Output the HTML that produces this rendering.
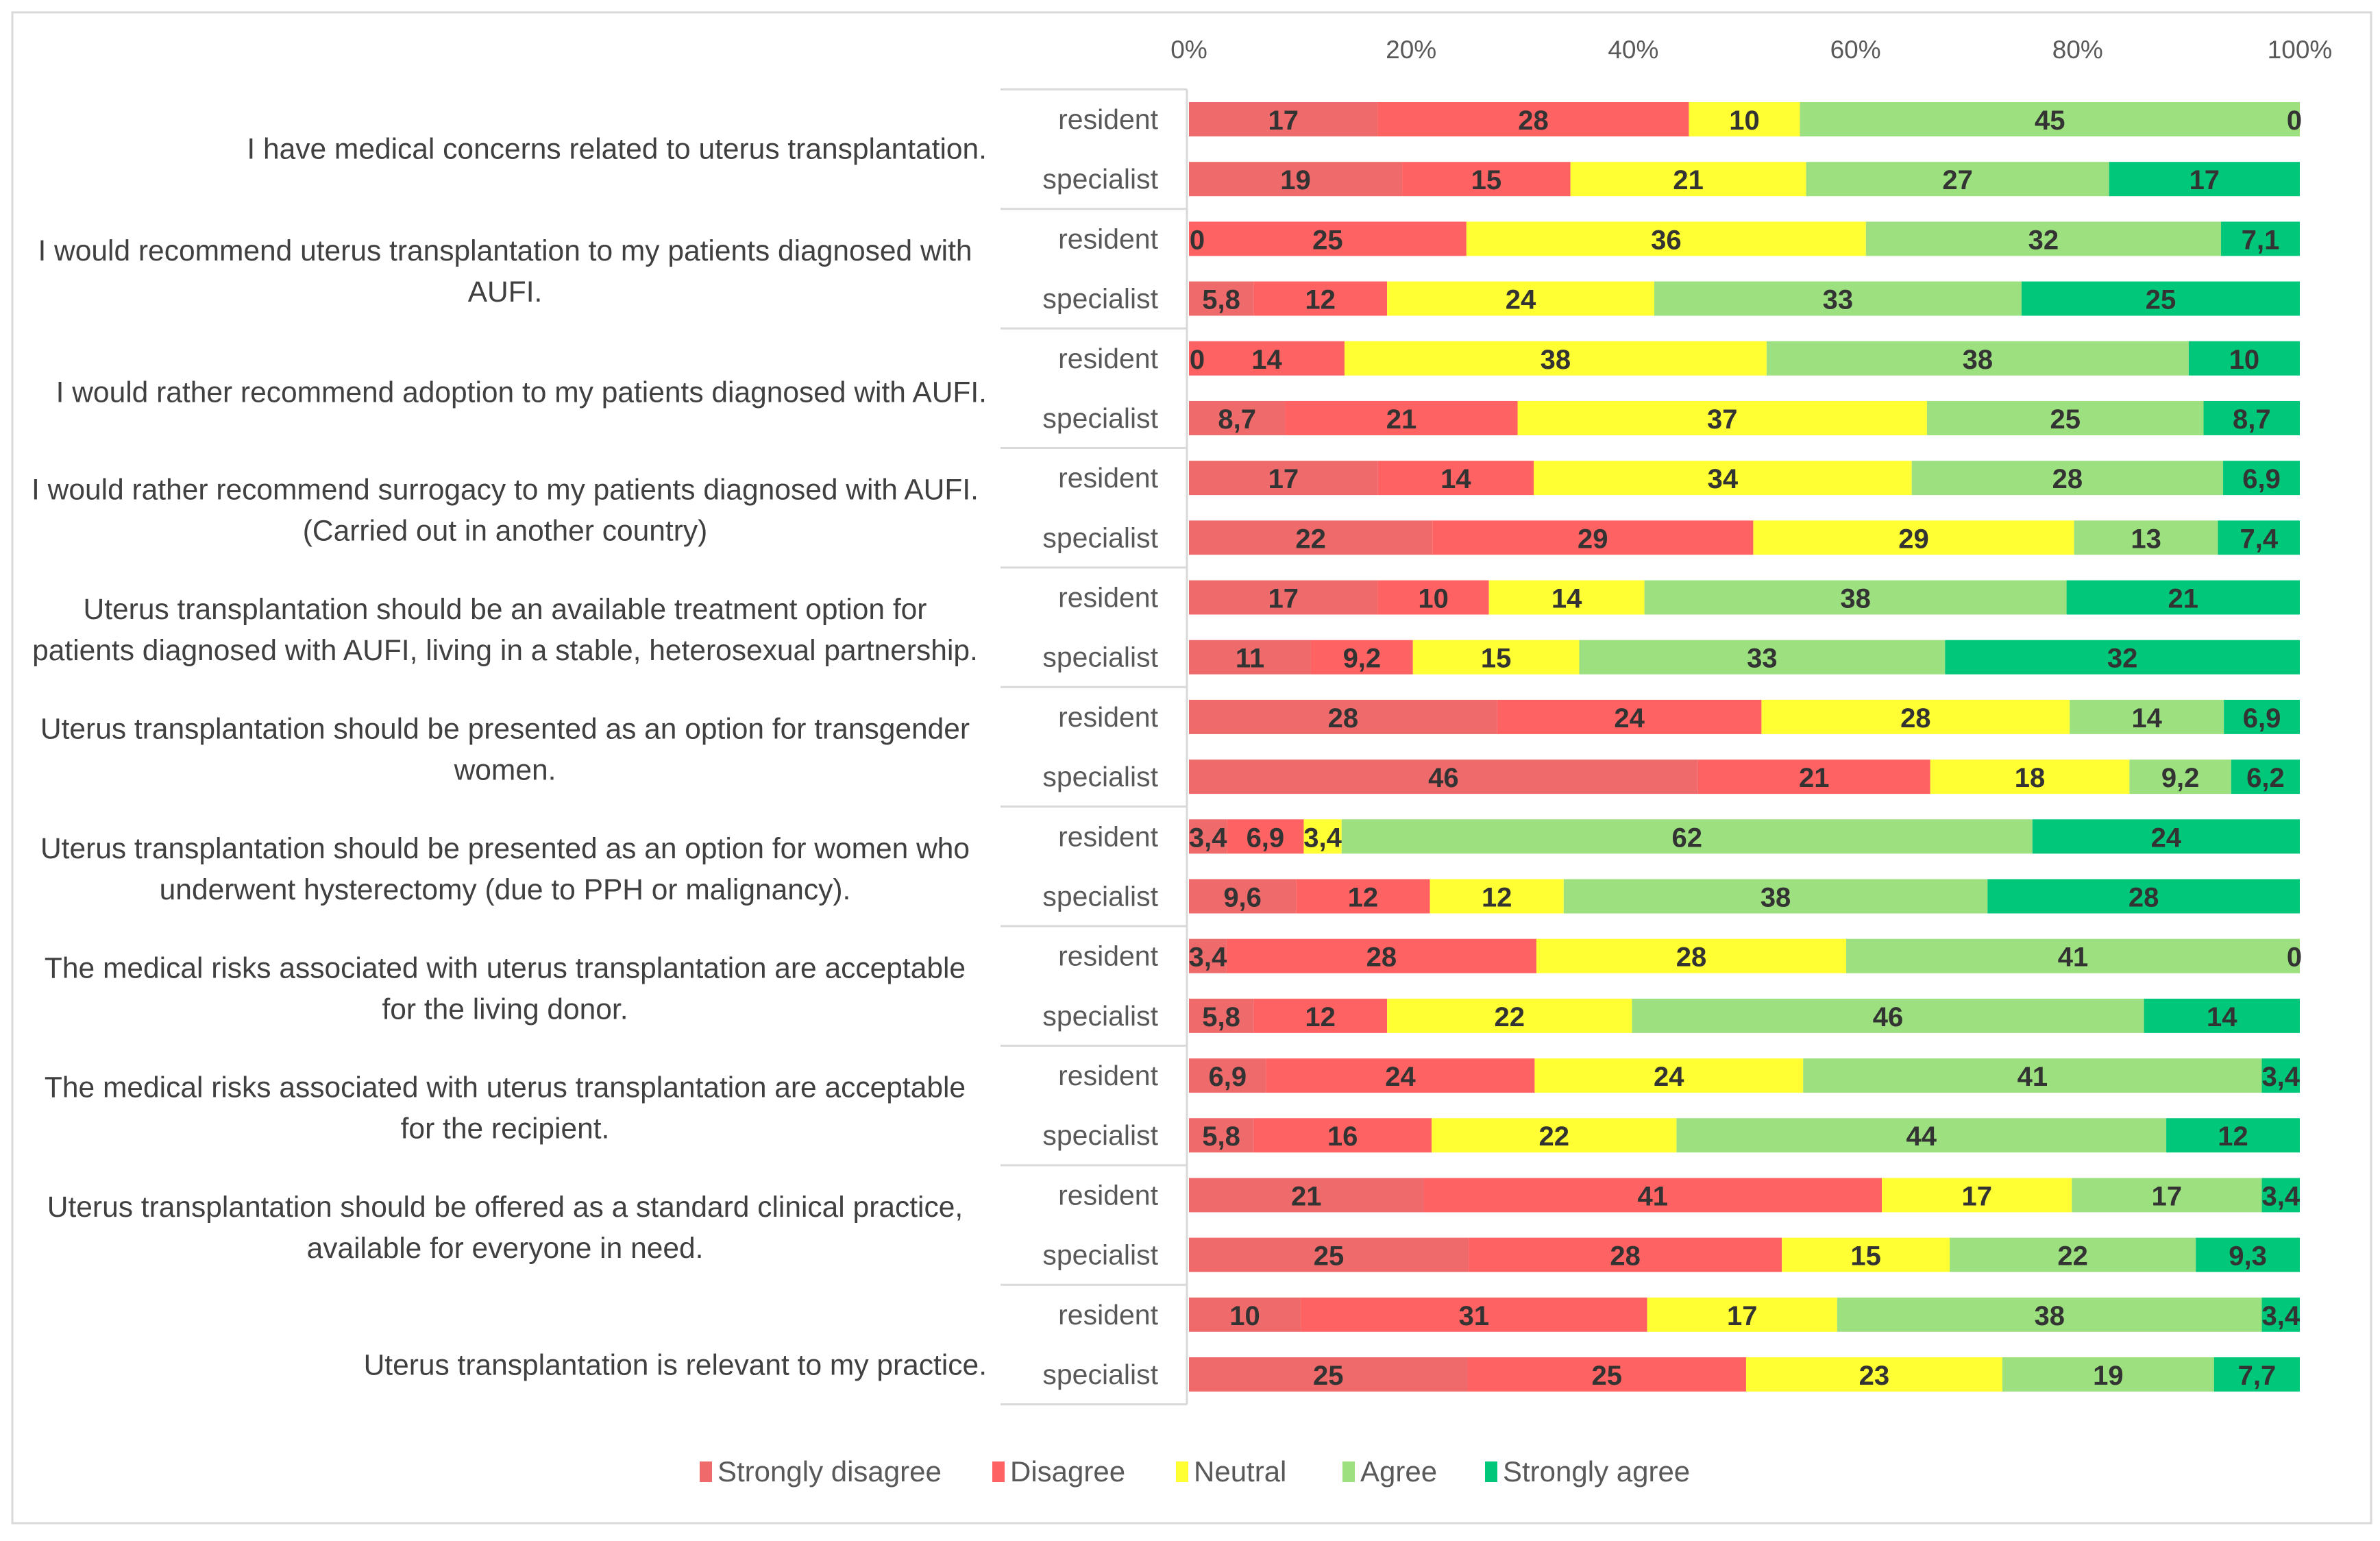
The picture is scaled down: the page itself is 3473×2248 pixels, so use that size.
<!DOCTYPE html>
<html><head><meta charset="utf-8"><style>
html,body{margin:0;padding:0;background:#fff;}
svg{display:block;font-family:"Liberation Sans",sans-serif;}
</style></head><body>
<svg id="chart" width="3473" height="2248" viewBox="0 0 3473 2248" xmlns="http://www.w3.org/2000/svg">
<rect x="18" y="18" width="3442" height="2204" fill="#fff" stroke="#d9d9d9" stroke-width="3"/>
<g id="grid"></g><g id="bars"></g><g id="labels"></g><g id="legend"></g>
</svg>
<script>
const categories=["Strongly disagree","Disagree","Neutral","Agree","Strongly agree"];
const colors=["#EF6A6A","#FF6262","#FFFF33","#9CE07F","#00C77A"];
const groups=["resident","specialist"];
const tickLabels=["0%","20%","40%","60%","80%","100%"];
const tickValues=[0,20,40,60,80,100];
const resident=[[17,28,10,45,0],[0,25,36,32,7.1],[0,14,38,38,10],[17,14,34,28,6.9],[17,10,14,38,21],[28,24,28,14,6.9],[3.4,6.9,3.4,62,24],[3.4,28,28,41,0],[6.9,24,24,41,3.4],[21,41,17,17,3.4],[10,31,17,38,3.4]];
const specialist=[[19,15,21,27,17],[5.8,12,24,33,25],[8.7,21,37,25,8.7],[22,29,29,13,7.4],[11,9.2,15,33,32],[46,21,18,9.2,6.2],[9.6,12,12,38,28],[5.8,12,22,46,14],[5.8,16,22,44,12],[25,28,15,22,9.3],[25,25,23,19,7.7]];
const questions=[
 ["I have medical concerns related to uterus transplantation."],
 ["I would recommend uterus transplantation to my patients diagnosed with","AUFI."],
 ["I would rather recommend adoption to my patients diagnosed with AUFI."],
 ["I would rather recommend surrogacy to my patients diagnosed with AUFI.","(Carried out in another country)"],
 ["Uterus transplantation should be an available treatment option for","patients diagnosed with AUFI, living in a stable, heterosexual partnership."],
 ["Uterus transplantation should be presented as an option for transgender","women."],
 ["Uterus transplantation should be presented as an option for women who","underwent hysterectomy (due to PPH or malignancy)."],
 ["The medical risks associated with uterus transplantation are acceptable","for the living donor."],
 ["The medical risks associated with uterus transplantation are acceptable","for the recipient."],
 ["Uterus transplantation should be offered as a standard clinical practice,","available for everyone in need."],
 ["Uterus transplantation is relevant to my practice."]
];
const NS="http://www.w3.org/2000/svg";
const X0=1735,X1=3356,ROW0=174,PITCH=87.19,BH=50;
const xs=v=>X0+(X1-X0)*v/100;
const ys=r=>ROW0+r*PITCH;
function mk(tag,attrs,parent,txt){const e=document.createElementNS(NS,tag);for(const k in attrs)e.setAttribute(k,attrs[k]);if(txt!==undefined)e.textContent=txt;parent.appendChild(e);return e;}
const grid=document.getElementById('grid'),bars=document.getElementById('bars'),labels=document.getElementById('labels'),legend=document.getElementById('legend');
tickValues.forEach((v,i)=>{const t=mk('text',{x:xs(v),y:85,'text-anchor':'middle','font-size':37,fill:'#595959'},labels,tickLabels[i]);

});
const nq=questions.length;
for(let k=0;k<=nq;k++){const y=ys(2*k)-43.6;const l=mk('line',{x1:1460,x2:1732,y1:y,y2:y,stroke:'#d9d9d9','stroke-width':3},grid);

}
const vl=mk('line',{x1:1732,x2:1732,y1:ys(0)-43.6,y2:ys(2*nq)-43.6,stroke:'#d9d9d9','stroke-width':3},grid);


const fmt=v=>String(v).replace('.',',');
for(let q=0;q<nq;q++){
 [resident[q],specialist[q]].forEach((vals,g)=>{
  const r=2*q+g,cy=ys(r);const sum=vals.reduce((a,b)=>a+b,0);let acc=0;
  const gl=mk('text',{x:1690,y:cy+14,'text-anchor':'end','font-size':41,fill:'#595959'},labels,groups[g]);
  
  
  vals.forEach((v,c)=>{
   const a=xs(acc/sum*100),b=xs((acc+v)/sum*100);
   if(v>0){const rc=mk('rect',{x:a,y:cy-BH/2,width:b-a,height:BH,fill:colors[c]},bars);
   
   }
   const tx=v>0?(a+b)/2:a+(c===0?0:-8);
   const t=mk('text',{x:Math.min(Math.max(tx,X0+12),X1-4),y:cy+15,'text-anchor':'middle','font-size':40,'font-weight':'bold',fill:'#333'},labels,fmt(v));
   
   
   acc+=v;});
 });
 const lines=questions[q];const top=ys(2*q)+43.6;
 lines.forEach((s,i)=>{
  const single=lines.length===1;
  let y=single?top+14:top+18+(i-0.5)*60;
  if(single&&q===nq-1)y+=30;
  if(single&&q===2)y+=6;
  const t=mk('text',{x:single?1440:737,y:y,'text-anchor':single?'end':'middle','font-size':42.5,fill:'#404040'},labels,s);
  
  
 });
}
const legX=[1021,1448,1716,1959,2167];
categories.forEach((c,i)=>{
 const m=mk('rect',{x:legX[i],y:2132,width:18,height:30,fill:colors[i]},legend);
 
 
 const t=mk('text',{x:legX[i]+26,y:2161,'font-size':42,fill:'#595959'},legend,c);
 
 
});
</script>
</body></html>
